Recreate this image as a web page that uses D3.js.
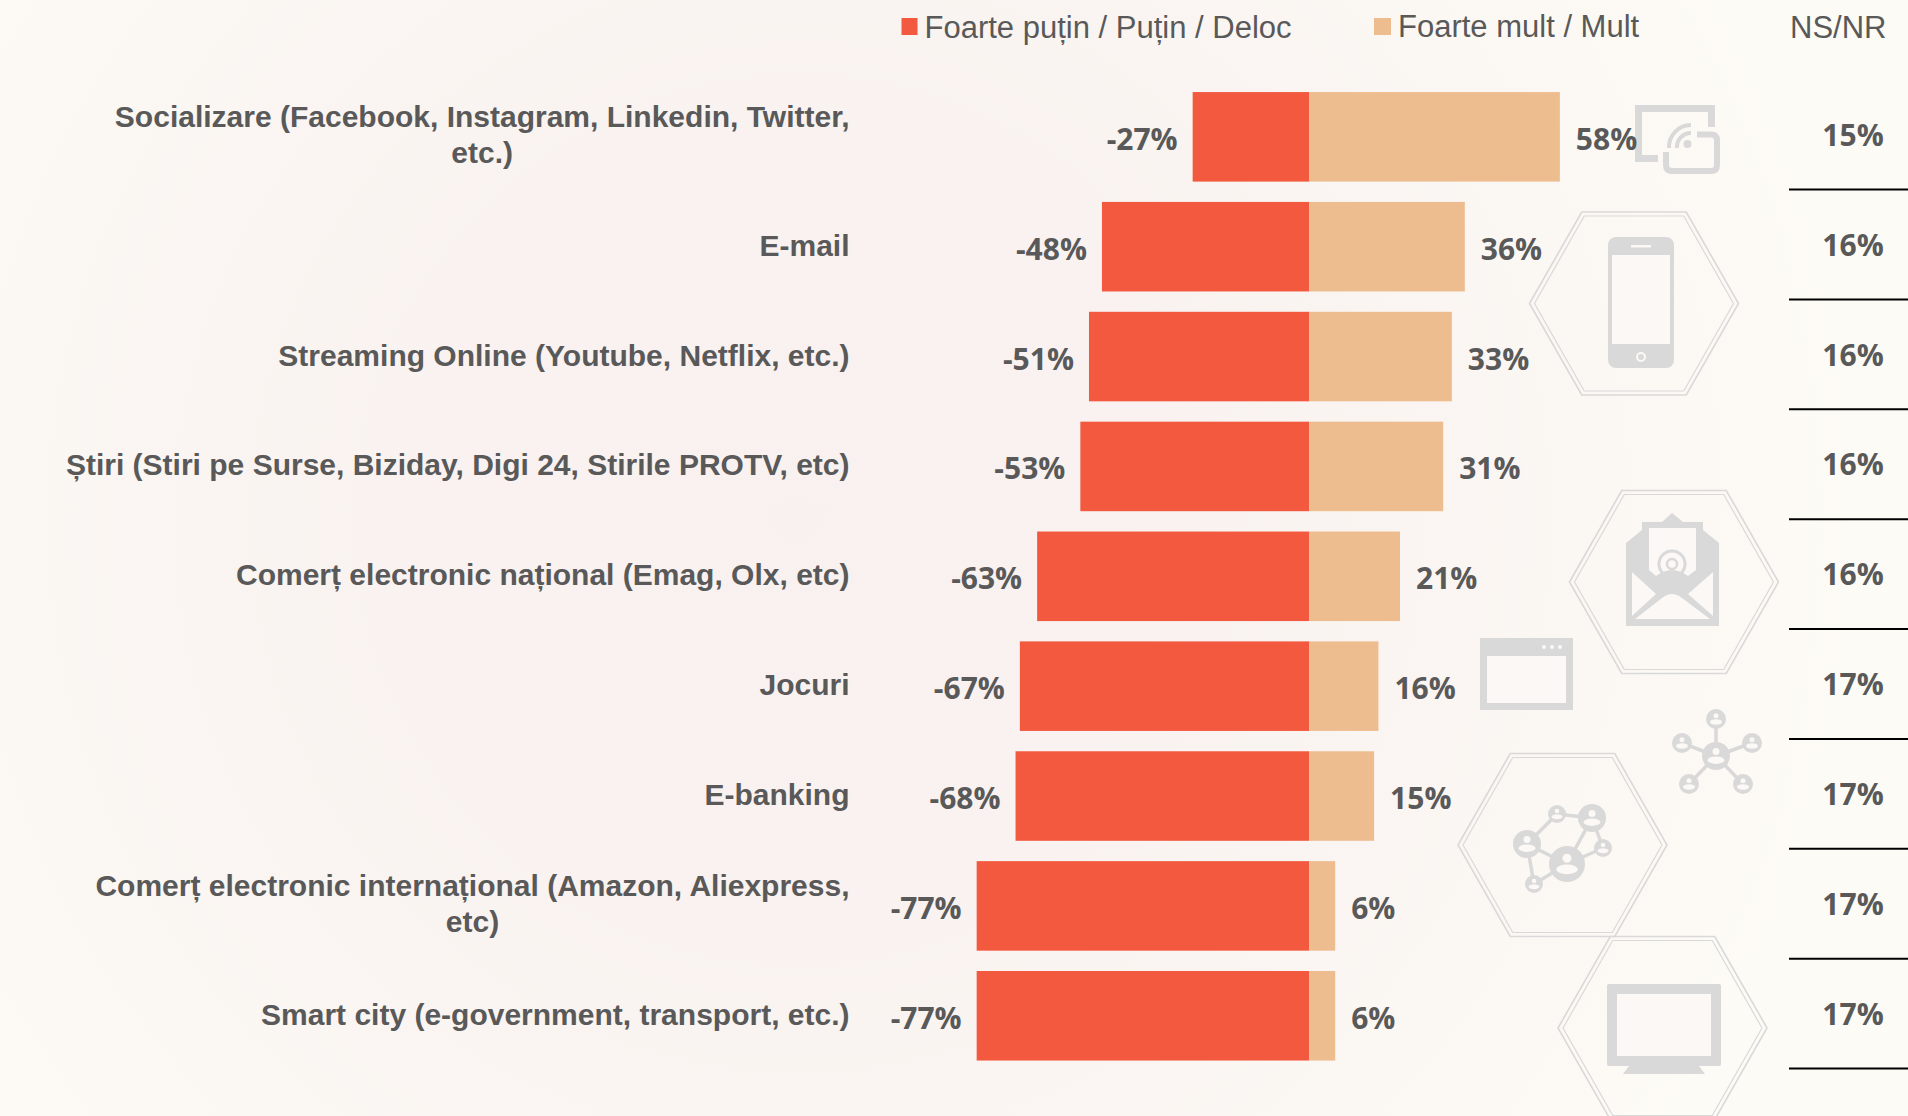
<!DOCTYPE html>
<html><head><meta charset="utf-8">
<script src="https://cdn.jsdelivr.net/npm/d3@7/dist/d3.min.js"></script>
<style>html,body{margin:0;padding:0;background:#fbf9f5;overflow:hidden}svg{display:block}</style>
</head><body><svg id="c" width="1908" height="1116"></svg>
<script>
const categories = ["Socializare (Facebook, Instagram, Linkedin, Twitter,\netc.)","E-mail","Streaming Online (Youtube, Netflix, etc.)","Știri (Stiri pe Surse, Biziday, Digi 24, Stirile PROTV, etc)","Comerț electronic național (Emag, Olx, etc)","Jocuri","E-banking","Comerț electronic internațional (Amazon, Aliexpress,\netc)","Smart city (e-government, transport, etc.)"];
const negative = [-27,-48,-51,-53,-63,-67,-68,-77,-77];
const positive = [58,36,33,31,21,16,15,6,6];
const unknown = [15,16,16,16,16,17,17,17,17];
const legendNeg = "Foarte puțin / Puțin / Deloc";
const legendPos = "Foarte mult / Mult";
const legendNS = "NS/NR";
const RED="#f2593f", TAN="#edbd8f", TXT="#595959", ICON="#d9d9d9";

const svg=d3.select("#c");
const defs=svg.append("defs");
const g=defs.append("radialGradient").attr("id","bg").attr("gradientUnits","userSpaceOnUse")
  .attr("cx",800).attr("cy",520).attr("r",1050);
[[0,"#f9f1f0"],[0.35,"#f9f2f0"],[0.75,"#fbf7f3"],[1,"#fdfbf5"]].forEach(([o,c])=>g.append("stop").attr("offset",o).attr("stop-color",c));
svg.append("rect").attr("width",1908).attr("height",1116).attr("fill","url(#bg)");

const x=d3.scaleLinear().domain([0,1]).range([1309.3,1313.62]);
const y=d3.scaleBand().domain(d3.range(categories.length)).range([81.9,1070.7]).paddingInner(0.185).paddingOuter(0.0925);
const bw=y.bandwidth();

/* ---- decorative icons ---- */
const ic=svg.append("g").attr("class","icons");
function hex(cx,cy){
  [[104.5,91.5,1.6],[99.5,87.5,1.2]].forEach(([a,b,w])=>{
    const pts=[[cx-a,cy],[cx-a/2,cy-b],[cx+a/2,cy-b],[cx+a,cy],[cx+a/2,cy+b],[cx-a/2,cy+b]];
    ic.append("polygon").attr("points",pts.join(" ")).attr("fill","none").attr("stroke",ICON).attr("stroke-width",w);
  });
}
hex(1634,303.5);hex(1674,582);hex(1562.5,845);hex(1662.5,1028);

// phone
ic.append("rect").attr("x",1608).attr("y",237).attr("width",66).attr("height",131).attr("rx",8).attr("fill",ICON);
ic.append("rect").attr("x",1612).attr("y",255).attr("width",58).attr("height",89).attr("fill","#fbf8f5");
ic.append("rect").attr("x",1631).attr("y",245).attr("width",20).attr("height",2.5).attr("fill","#fbf8f5");
ic.append("circle").attr("cx",1641).attr("cy",357).attr("r",5).attr("fill","#fbf8f5");
ic.append("circle").attr("cx",1641).attr("cy",357).attr("r",3).attr("fill",ICON);

// cast
ic.append("path").attr("d","M1658 158.500H1638.500V108.500H1711.500V127").attr("fill","none").attr("stroke",ICON).attr("stroke-width",7);
ic.append("path").attr("d","M1697 134.500H1711Q1717 134.500 1717 140.500V165Q1717 171 1711 171H1672Q1666 171 1666 165V152").attr("fill","none").attr("stroke",ICON).attr("stroke-width",6);
ic.append("circle").attr("cx",1687.500).attr("cy",144).attr("r",4).attr("fill",ICON);
ic.append("path").attr("d","M1677 148A14 14 0 0 1 1691 133M1669 148A22 22 0 0 1 1691 125").attr("fill","none").attr("stroke",ICON).attr("stroke-width",4);

// envelope
ic.append("path").attr("d","M1626 626V543L1642 530V522H1662L1672 513L1683 522H1703V530L1719 543V626Z").attr("fill",ICON);
ic.append("path").attr("d","M1649 528V570L1656 576Q1672 564 1688 576L1696 570V528Z").attr("fill","#fbf8f5");
ic.append("path").attr("d","M1632 572V616L1656 594Z M1713 572V616L1688 594Z M1635 619H1710L1682 598Q1672 590 1662 598Z").attr("fill","#fbf8f5");
ic.append("circle").attr("cx",1672).attr("cy",564).attr("r",13).attr("fill","none").attr("stroke",ICON).attr("stroke-width",3);
ic.append("circle").attr("cx",1672).attr("cy",564).attr("r",5).attr("fill","none").attr("stroke",ICON).attr("stroke-width",2.5);

// window
ic.append("rect").attr("x",1480).attr("y",638).attr("width",93).attr("height",72).attr("fill",ICON);
ic.append("rect").attr("x",1487).attr("y",656).attr("width",79).attr("height",47).attr("fill","#fbf8f5");
[1544,1552,1560].forEach(cx=>ic.append("circle").attr("cx",cx).attr("cy",647).attr("r",2).attr("fill","#fbf8f5"));

// networks
function net(nodes,links){
  links.forEach(([a,b])=>ic.append("line").attr("x1",nodes[a][0]).attr("y1",nodes[a][1]).attr("x2",nodes[b][0]).attr("y2",nodes[b][1]).attr("stroke",ICON).attr("stroke-width",3.500));
  nodes.forEach(([cx,cy,r])=>{
    ic.append("circle").attr("cx",cx).attr("cy",cy).attr("r",r).attr("fill",ICON);
    ic.append("circle").attr("cx",cx).attr("cy",cy-r*.32).attr("r",r*.25).attr("fill","#fbf8f5");
    ic.append("ellipse").attr("cx",cx).attr("cy",cy+r*.3).attr("rx",r*.6).attr("ry",r*.27).attr("fill","#fbf8f5");
  });
}
net([[1716,756,14],[1716,719,10],[1752,743,10],[1682,743,10],[1689,784,10],[1743,784,10]],[[0,1],[0,2],[0,3],[0,4],[0,5]]);
net([[1527,844,14],[1557,814,9],[1592,818,14],[1603,848,9],[1567,864,18],[1534,884,9]],[[0,1],[1,2],[2,4],[2,3],[3,4],[0,4],[0,5],[5,4]]);

// tv
ic.append("rect").attr("x",1607).attr("y",984).attr("width",114).attr("height",82).attr("rx",2).attr("fill",ICON);
ic.append("rect").attr("x",1617).attr("y",994).attr("width",94).attr("height",62).attr("fill","#fbf8f5");
ic.append("path").attr("d","M1629 1066H1699L1705 1074H1623Z").attr("fill",ICON);

/* ---- bars ---- */
svg.append("g").selectAll("rect").data(negative).join("rect")
  .attr("x",d=>x(d)).attr("y",(d,i)=>y(i)).attr("width",d=>x(0)-x(d)).attr("height",bw).attr("fill",RED);
svg.append("g").selectAll("rect").data(positive).join("rect")
  .attr("x",x(0)).attr("y",(d,i)=>y(i)).attr("width",d=>x(d)-x(0)).attr("height",bw).attr("fill",TAN);

/* ---- labels ---- */
const valFont={"font-family":"'Open Sans'","font-weight":700,"font-size":"30px","fill":TXT};
const ap=(s,o)=>{Object.entries(o).forEach(([k,v])=>s.attr(k,v));return s;};
ap(svg.append("g").selectAll("text").data(negative).join("text")
  .attr("x",d=>x(d)-15).attr("y",(d,i)=>y(i)+bw/2+13).attr("text-anchor","end").text(d=>d+"%"),valFont);
ap(svg.append("g").selectAll("text").data(positive).join("text")
  .attr("x",d=>x(d)+16).attr("y",(d,i)=>y(i)+bw/2+13).text(d=>d+"%"),valFont);
ap(svg.append("g").selectAll("text").data(unknown).join("text")
  .attr("x",1853).attr("y",(d,i)=>y(i)+bw/2+9).attr("text-anchor","middle").text(d=>d+"%"),valFont);

svg.append("g").selectAll("line").data(unknown).join("line")
  .attr("x1",1789).attr("x2",1908).attr("y1",(d,i)=>y(i)+bw+8).attr("y2",(d,i)=>y(i)+bw+8)
  .attr("stroke","#000").attr("stroke-width",2);

const catG=svg.append("g").attr("font-family","'Liberation Sans'").attr("font-weight",700).attr("font-size","30px").attr("fill",TXT);
categories.forEach((c,i)=>{
  const lines=c.split("\n");
  const cy=y(i)+bw/2;
  if(lines.length===1){
    catG.append("text").attr("x",849.5).attr("y",cy+9).attr("text-anchor","end").text(c);
  } else {
    const t=catG.append("text").attr("x",849.5).attr("y",cy-10).attr("text-anchor","end").text(lines[0]);
    const w=t.node().getComputedTextLength();
    catG.append("text").attr("x",849.5-w/2).attr("y",cy+26).attr("text-anchor","middle").text(lines[1]);
  }
});

/* ---- legend ---- */
const leg=svg.append("g").attr("font-family","'Liberation Sans'").attr("font-size","31px").attr("fill",TXT);
leg.append("rect").attr("x",901.5).attr("y",18).attr("width",16).attr("height",17).attr("fill",RED);
leg.append("text").attr("x",924.500).attr("y",38).text(legendNeg);
leg.append("rect").attr("x",1374).attr("y",18).attr("width",17).attr("height",17).attr("fill",TAN);
leg.append("text").attr("x",1398).attr("y",37).text(legendPos);
leg.append("text").attr("x",1790).attr("y",38).text(legendNS);
</script></body></html>
